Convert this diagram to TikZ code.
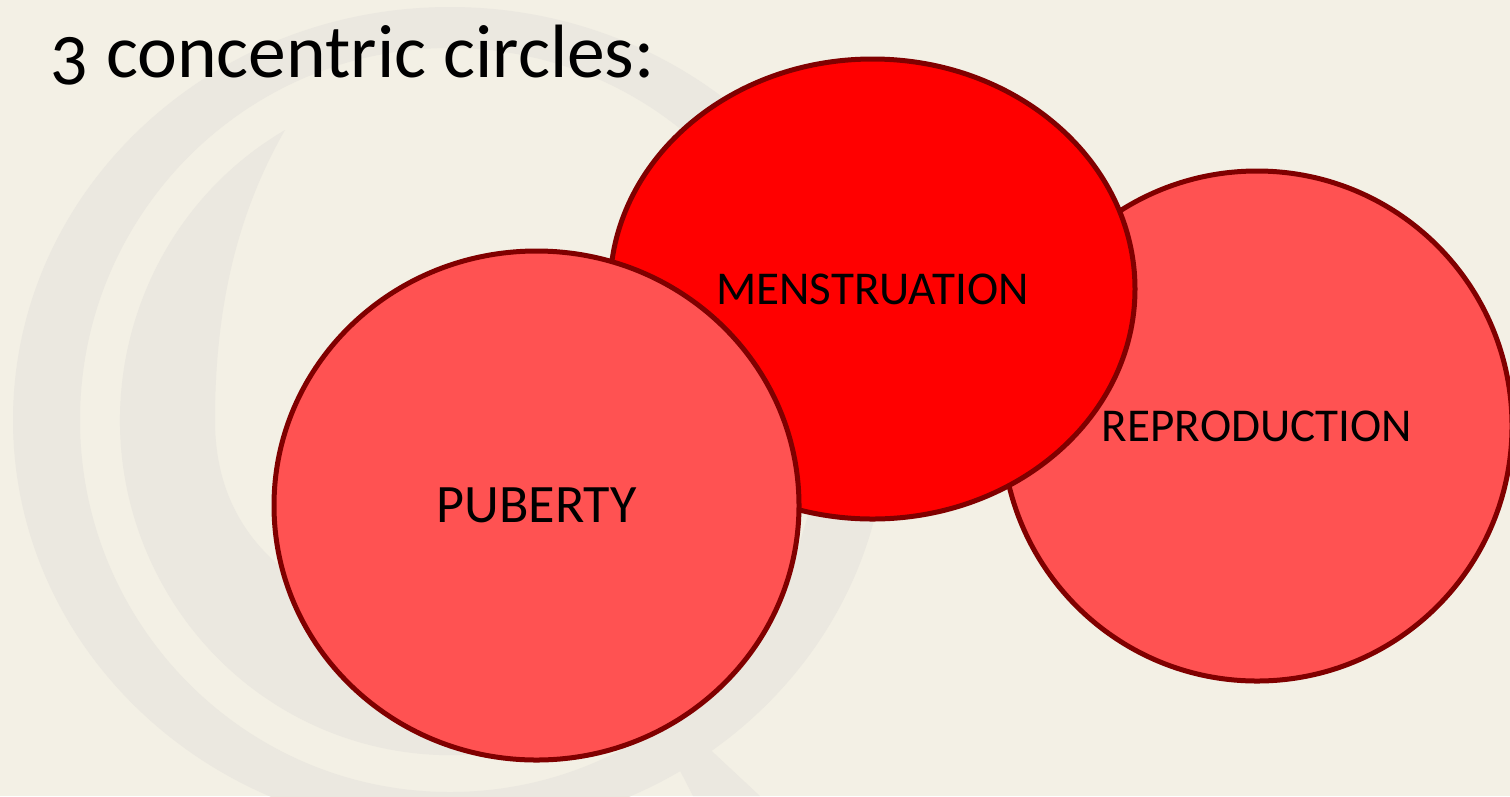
\documentclass[tikz,border=0pt]{standalone}
\usepackage{fontspec}
\setmainfont{Carlito}
\usetikzlibrary{shapes.geometric}

\definecolor{slidebg}{HTML}{F3F0E5}
\definecolor{markgrey}{HTML}{EBE8E0}
\definecolor{brightred}{HTML}{FF0000}
\definecolor{softred}{HTML}{FF5252}
\definecolor{rimred}{HTML}{800000}

\begin{document}
\begin{tikzpicture}[
  circ/.style={ellipse, draw=rimred, line width=0.05cm, inner sep=0pt,
    font=\fontsize{13.4}{16}\selectfont},
  wmark/.style={fill=markgrey}
]
% slide background
\fill[slidebg] (0,0) rectangle (15.10,-7.96);
\useasboundingbox (0,0) rectangle (15.10,-7.96);
\clip (0,0) rectangle (15.10,-7.96);

% faint watermark behind the circles
\fill[wmark, even odd rule] (4.50,-4.20) ellipse [x radius=4.37, y radius=4.13]
  (4.50,-4.20) ellipse [x radius=3.70, y radius=3.72];
\fill[wmark] (2.85,-1.30) arc [start angle=120, end angle=300, x radius=3.30, y radius=3.35]
  -- (5.80,-6.50) .. controls (3.30,-6.40) and (2.15,-5.60) .. (2.15,-4.20)
  .. controls (2.15,-2.90) and (2.45,-2.00) .. cycle;
\fill[wmark] (6.73,-7.57) -- (7.00,-7.40) -- (7.60,-7.96) -- (6.93,-7.96) -- cycle;

\node[anchor=base west, inner sep=0pt, font=\fontsize{21.5}{26}\selectfont] (title)
  at (0.50,-0.77) {{\addfontfeature{Numbers=OldStyle}3} concentric circles:};

% the three circles, back to front
\node[circ, fill=softred, minimum width=5.10cm, minimum height=5.10cm] (repro)
  at (12.57,-4.26) {REPRODUCTION};
\node[circ, fill=brightred, minimum width=5.25cm, minimum height=4.60cm] (menses)
  at (8.725,-2.89) {MENSTRUATION};
\node[circ, fill=softred, minimum width=5.25cm, minimum height=5.09cm,
  font=\fontsize{15.4}{18}\selectfont] (puberty)
  at (5.365,-5.055) {PUBERTY};

\end{tikzpicture}
\end{document}
